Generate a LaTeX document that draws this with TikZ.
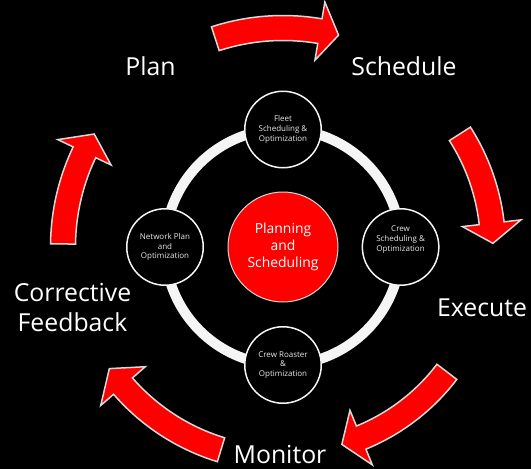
\documentclass[tikz,border=0pt]{standalone}
\usepackage{fontspec}
\setmainfont{Open Sans}
\definecolor{arrowred}{HTML}{FF0000}
\definecolor{hubred}{HTML}{FF0000}
\definecolor{edgegray}{HTML}{D9D9D9}
\definecolor{ringwhite}{HTML}{F5F5F5}
\definecolor{textgray}{HTML}{EAEAEA}
\def\arrbw{12.5}
\def\arrhw{29.5}
% #1 cx, #2 cy, #3 radius, #4 tail angle, #5 head base angle, #6 tip angle
\newcommand{\cyclearrow}[6]{%
  \draw[arrowshape]
    plot[domain=#4:#5, samples=40] ({#1+(#3+\arrbw)*cos(\x)}, {#2-(#3+\arrbw)*sin(\x)})
    -- ({#1+(#3+\arrhw)*cos(#5)}, {#2-(#3+\arrhw)*sin(#5)})
    -- ({#1+#3*cos(#6)}, {#2-#3*sin(#6)})
    -- ({#1+(#3-\arrhw)*cos(#5)}, {#2-(#3-\arrhw)*sin(#5)})
    -- plot[domain=#5:#4, samples=40] ({#1+(#3-\arrbw)*cos(\x)}, {#2-(#3-\arrbw)*sin(\x)})
    -- cycle;}
\begin{document}
\begin{tikzpicture}[x=1pt,y=-1pt,
  bigtext/.style={text=white, font=\fontsize{24.8}{29}\selectfont, inner sep=0pt, anchor=base},
  smallcirc/.style={circle, draw=ringwhite, line width=1.5pt, fill=black, minimum size=76.5pt,
    inner sep=0pt, text=textgray, font=\fontsize{8}{9.7}\selectfont, align=center},
  smalltext/.style={text=textgray, font=\fontsize{8}{9.7}\selectfont, align=center, inner sep=0pt},
  hub/.style={circle, draw=edgegray, line width=1pt, fill=hubred, minimum size=110pt,
    inner sep=0pt, text=white, font=\fontsize{13.9}{16.7}\selectfont, align=center},
  arrowshape/.style={fill=arrowred, draw=edgegray, line width=1.5pt, line join=miter}]
\useasboundingbox (0,0) rectangle (531,469);
\fill[black] (0,0) rectangle (531,469);

% cycle arrows
\cyclearrow{283}{247}{219}{108}{80.3}{75.3}
\cyclearrow{283}{247}{210}{32.6}{6.5}{1}
\cyclearrow{283}{247}{206}{-37.3}{-67.7}{-73.4}
\cyclearrow{283}{247}{212}{-107}{-139}{-145}
\cyclearrow{283}{247}{220}{179.2}{154.5}{149.1}

% ring
\coordinate (c) at (283,247);
\draw[ringwhite, line width=10pt] (c) circle[radius=118];

% hub and satellites
\node[hub] (hub) at (283,247) {Planning\\and\\Scheduling};
\node[smallcirc] (fleet) at (283,129.5) {Fleet\\Scheduling \&\\Optimization};
\node[smallcirc] (network) at (165,247) {Network Plan\\and\\Optimization};
\node[smallcirc] (crew) at (400.6,247) {};
\node[smalltext] (crewtext) at (400.6,239.5) {Crew\\Scheduling \&\\Optimization};
\node[smallcirc] (roaster) at (283,365) {Crew Roaster\\\&\\Optimization};

% stage labels
\node[bigtext] (plan) at (150.5,75) {Plan};
\node[bigtext] (schedule) at (404,75) {Schedule};
\node[bigtext] (execute) at (482,316.7) {Execute};
\node[bigtext] (monitor) at (280,463) {Monitor};
\node[bigtext] (corrective) at (72.5,301.7) {Corrective};
\node[bigtext] (feedback) at (72.5,331) {Feedback};
\end{tikzpicture}
\end{document}
